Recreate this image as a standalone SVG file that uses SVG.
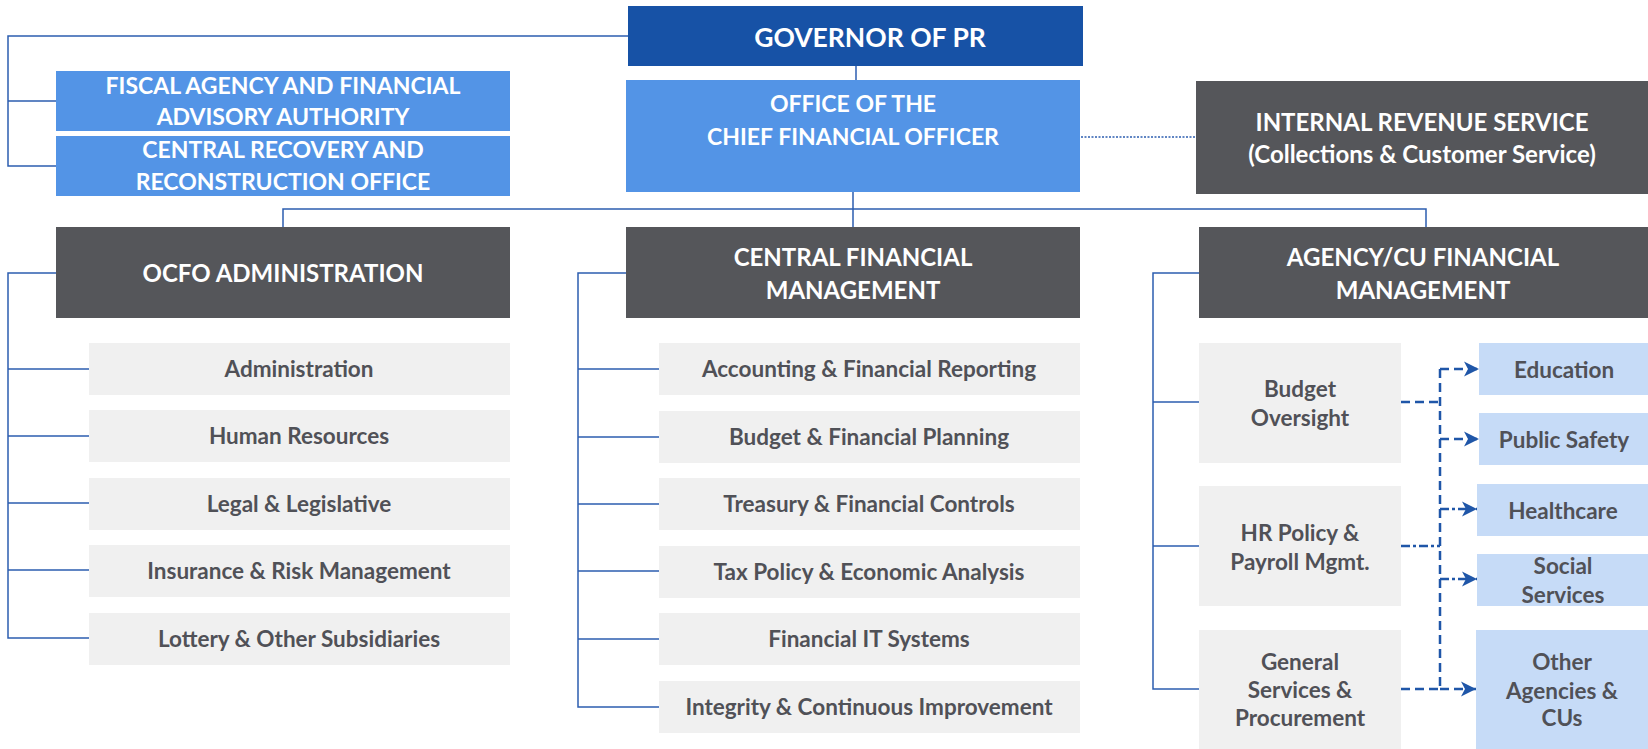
<svg xmlns="http://www.w3.org/2000/svg" width="1648" height="749" viewBox="0 0 1648 749">
<style>
text{font-family:Lato,"Open Sans","Liberation Sans",sans-serif;font-weight:700;text-anchor:middle}
.w{fill:#ffffff}
.g{fill:#505157}
.hd{font-size:24px}
.hm{font-size:23px}
.hg{font-size:26.5px}
.sb{font-size:22.5px}
.gov{fill:#1752A6}
.mid{fill:#5394E6}
.dk{fill:#55565A}
.lt{fill:#F0F0F0}
.lb{fill:#C6DBF7}
.ln{fill:none;stroke:#2C5EB0;stroke-width:1.5}
.dot{fill:none;stroke:#2C5EB0;stroke-width:1.5;stroke-dasharray:2,1.5}
.ds{fill:none;stroke:#1F56A8;stroke-width:2.5;stroke-dasharray:9,5}
.dd{fill:none;stroke:#1F56A8;stroke-width:2.5;stroke-dasharray:9,3,3,3}
</style>
<defs>
<marker id="ah" markerUnits="userSpaceOnUse" markerWidth="17" markerHeight="17" viewBox="0 0 17 17" refX="16" refY="8.5" orient="auto">
<path d="M1,1 L16,8.5 L1,16 L5,8.5 z" fill="#1F56A8"/>
</marker>
</defs>
<rect width="1648" height="749" fill="#ffffff"/>
<g id="connectors">
<path class="ln" d="M628,36 H8 V166 H56 M8,101 H56"/>
<path class="ln" d="M856,66 V80"/>
<path class="dot" d="M1081,137 H1196"/>
<path class="ln" d="M853,192 V227 M283,227 V209 H1426 V227"/>
<path class="ln" d="M56,273 H8 V638 H89 M8,369 H89 M8,436 H89 M8,503 H89 M8,570 H89"/>
<path class="ln" d="M626,273 H578 V707 H659 M578,369 H659 M578,437 H659 M578,504 H659 M578,571 H659 M578,639 H659"/>
<path class="ln" d="M1199,273 H1153 V689 H1199 M1153,402 H1199 M1153,546 H1199"/>
<path class="ds" d="M1401,402 H1440 M1401,689 H1440 M1440,369 V689"/>
<path class="dd" d="M1401,546 H1440"/>
<path class="ds" d="M1440,369 H1479" marker-end="url(#ah)"/>
<path class="ds" d="M1440,439 H1479" marker-end="url(#ah)"/>
<path class="dd" d="M1440,509 H1477" marker-end="url(#ah)"/>
<path class="dd" d="M1440,579 H1477" marker-end="url(#ah)"/>
<path class="ds" d="M1440,689 H1476" marker-end="url(#ah)"/>
</g>
<g id="governor"><rect class="gov" x="628" y="6" width="455" height="60"/><text class="w hg" x="870" y="46.5">GOVERNOR OF PR</text></g>
<g id="fiscal"><rect class="mid" x="56" y="71" width="454" height="60"/><text class="w hm" x="283" y="94">FISCAL AGENCY AND FINANCIAL</text><text class="w hm" x="283" y="125">ADVISORY AUTHORITY</text></g>
<g id="recovery"><rect class="mid" x="56" y="136" width="454" height="60"/><text class="w hm" x="283" y="158">CENTRAL RECOVERY AND</text><text class="w hm" x="283" y="190">RECONSTRUCTION OFFICE</text></g>
<g id="ocfo"><rect class="mid" x="626" y="80" width="454" height="112"/><text class="w hm" x="853" y="112">OFFICE OF THE</text><text class="w hm" x="853" y="145">CHIEF FINANCIAL OFFICER</text></g>
<g id="irs"><rect class="dk" x="1196" y="81" width="452" height="113"/><text class="w hd" x="1422" y="130.5">INTERNAL REVENUE SERVICE</text><text class="w hd" x="1422" y="163">(Collections &amp; Customer Service)</text></g>
<g id="ocfo-admin"><rect class="dk" x="56" y="227" width="454" height="91"/><text class="w hd" x="283" y="281.5">OCFO ADMINISTRATION</text></g>
<g id="cfm"><rect class="dk" x="626" y="227" width="454" height="91"/><text class="w hd" x="853" y="265.5">CENTRAL FINANCIAL</text><text class="w hd" x="853" y="298.5">MANAGEMENT</text></g>
<g id="agency"><rect class="dk" x="1199" y="227" width="449" height="91"/><text class="w hd" x="1423" y="265.5">AGENCY/CU FINANCIAL</text><text class="w hd" x="1423" y="298.5">MANAGEMENT</text></g>
<g id="administration"><rect class="lt" x="89" y="343" width="421" height="52"/><text class="g sb" x="299" y="377">Administration</text></g>
<g id="hr"><rect class="lt" x="89" y="410" width="421" height="52"/><text class="g sb" x="299" y="444">Human Resources</text></g>
<g id="legal"><rect class="lt" x="89" y="478" width="421" height="52"/><text class="g sb" x="299" y="512">Legal &amp; Legislative</text></g>
<g id="insurance"><rect class="lt" x="89" y="545" width="421" height="52"/><text class="g sb" x="299" y="579">Insurance &amp; Risk Management</text></g>
<g id="lottery"><rect class="lt" x="89" y="613" width="421" height="52"/><text class="g sb" x="299" y="647">Lottery &amp; Other Subsidiaries</text></g>
<g id="accounting"><rect class="lt" x="659" y="343" width="421" height="52"/><text class="g sb" x="869" y="377">Accounting &amp; Financial Reporting</text></g>
<g id="budget-planning"><rect class="lt" x="659" y="411" width="421" height="52"/><text class="g sb" x="869" y="445">Budget &amp; Financial Planning</text></g>
<g id="treasury"><rect class="lt" x="659" y="478" width="421" height="52"/><text class="g sb" x="869" y="512">Treasury &amp; Financial Controls</text></g>
<g id="tax"><rect class="lt" x="659" y="546" width="421" height="52"/><text class="g sb" x="869" y="580">Tax Policy &amp; Economic Analysis</text></g>
<g id="it"><rect class="lt" x="659" y="613" width="421" height="52"/><text class="g sb" x="869" y="647">Financial IT Systems</text></g>
<g id="integrity"><rect class="lt" x="659" y="681" width="421" height="52"/><text class="g sb" x="869" y="715">Integrity &amp; Continuous Improvement</text></g>
<g id="budget-oversight"><rect class="lt" x="1199" y="343" width="202" height="120"/><text class="g sb" x="1300" y="397">Budget</text><text class="g sb" x="1300" y="426">Oversight</text></g>
<g id="hr-policy"><rect class="lt" x="1199" y="486" width="202" height="120"/><text class="g sb" x="1300" y="541">HR Policy &amp;</text><text class="g sb" x="1300" y="570">Payroll Mgmt.</text></g>
<g id="general-services"><rect class="lt" x="1199" y="630" width="202" height="119"/><text class="g sb" x="1300" y="670">General</text><text class="g sb" x="1300" y="698">Services &amp;</text><text class="g sb" x="1300" y="726">Procurement</text></g>
<g id="education"><rect class="lb" x="1479" y="343" width="169" height="52"/><text class="g sb" x="1564" y="378">Education</text></g>
<g id="public-safety"><rect class="lb" x="1479" y="413" width="169" height="52"/><text class="g sb" x="1564" y="448">Public Safety</text></g>
<g id="healthcare"><rect class="lb" x="1477" y="484" width="171" height="52"/><text class="g sb" x="1563" y="519">Healthcare</text></g>
<g id="social"><rect class="lb" x="1477" y="554" width="171" height="52"/><text class="g sb" x="1563" y="574">Social</text><text class="g sb" x="1563" y="603">Services</text></g>
<g id="other"><rect class="lb" x="1476" y="630" width="172" height="119"/><text class="g sb" x="1562" y="670">Other</text><text class="g sb" x="1562" y="699">Agencies &amp;</text><text class="g sb" x="1562" y="726">CUs</text></g>
</svg>
